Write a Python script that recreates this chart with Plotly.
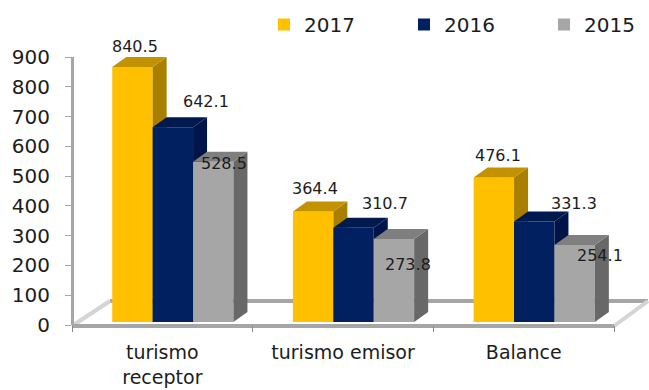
import plotly.graph_objects as go

categories = ["turismo<br>receptor", "turismo emisor", "Balance"]
series_names = ["2017", "2016", "2015"]
values_2017 = [840.5, 364.4, 476.1]
values_2016 = [642.1, 310.7, 331.3]
values_2015 = [528.5, 273.8, 254.1]
y_ticks = [0, 100, 200, 300, 400, 500, 600, 700, 800, 900]

W, H = 649, 390
FONT = "DejaVu Sans"
INK = "#1c1c1c"
GREY = "#a6a6a6"

front = ["#FFC000", "#002060", "#A6A6A6"]
top = ["#C29200", "#001A50", "#7F7F7F"]
side = ["#A97F00", "#00144A", "#686868"]

# label displacement from the front-top centre of each bar (pixels)
label_dx = [[3, 33, 11], [2, 31, 14], [4, 40, 25]]
label_dy = [[20, 26, -2], [23, 24, -26], [22, 18, -11]]

X0 = 72; CAT = 180.7
PX_UNIT = 0.3034   # bar plane scale
BASE = 322
def fy(px): return 1 - px / H
xrange_ = [(0 - X0) / CAT, (W - X0) / CAT]
bar_w = 40.4 / CAT
shift = 10.5 / CAT
dx = 14 / CAT
dy = 10 / PX_UNIT

all_vals = [values_2017, values_2016, values_2015]
axes = ["y2", "y3", "y4"]
fig = go.Figure()

fig.add_trace(go.Scatter(x=[0], y=[0], yaxis="y", mode="markers",
                         marker=dict(opacity=0), showlegend=False, hoverinfo="skip"))

annotations = []
for s, (name, vals) in enumerate(zip(series_names, all_vals)):
    xs = [c + 0.5 + shift + (s - 1) * bar_w for c in range(len(categories))]
    fig.add_trace(go.Bar(x=xs, y=vals, width=bar_w, name=name, yaxis=axes[s],
                         marker=dict(color=front[s], line=dict(width=0))))
    for c, (x, v) in enumerate(zip(xs, vals)):
        l, r = x - bar_w / 2, x + bar_w / 2
        fig.add_trace(go.Scatter(x=[r, r + dx, r + dx, r, r], y=[0, dy, v + dy, v, 0],
                                 yaxis=axes[s], mode="lines", fill="toself", fillcolor=side[s],
                                 line=dict(width=0), showlegend=False, hoverinfo="skip"))
        fig.add_trace(go.Scatter(x=[l, l + dx, r + dx, r, r, l], y=[v, v + dy, v + dy, v, v, v],
                                 yaxis=axes[s], mode="lines", fill="toself", fillcolor=top[s],
                                 line=dict(width=0), showlegend=False, hoverinfo="skip"))
        annotations.append(dict(x=x, y=v, xref="x", yref="y2", text=f"{v:.1f}", showarrow=False,
                                xanchor="center", yanchor="middle",
                                xshift=label_dx[c][s], yshift=label_dy[c][s],
                                font=dict(family=FONT, size=16, color=INK)))

def seg(x0, y0, x1, y1, color=GREY, width=4):
    return dict(type="line", xref="paper", yref="paper", layer="below",
                x0=x0 / W, x1=x1 / W, y0=fy(y0), y1=fy(y1),
                line=dict(color=color, width=width))

shapes = [
    seg(110, 301, 648, 301),
    seg(72, 326, 110, 301, "#d4d4d4", 4),
    seg(614, 326, 648, 301, "#d4d4d4", 4),
    seg(72, 326, 614, 326),
]

fig.update_layout(
    width=W, height=H, autosize=False, margin=dict(l=0, r=0, t=0, b=0, autoexpand=False),
    paper_bgcolor="white", plot_bgcolor="rgba(0,0,0,0)",
    barmode="overlay",
    font=dict(family=FONT, color=INK, size=20),
    shapes=shapes, annotations=annotations,
    legend=dict(orientation="h", x=264 / W, y=fy(5), xanchor="left", yanchor="top",
                font=dict(family=FONT, size=20, color=INK), entrywidth=95, entrywidthmode="pixels",
                bgcolor="rgba(0,0,0,0)", traceorder="normal"),
    xaxis=dict(range=xrange_, domain=[0, 1], anchor="y", showgrid=False, zeroline=False, showline=False,
               automargin=False,
               tickmode="array", tickvals=[i + 0.5 for i in range(len(categories))], ticktext=categories,
               ticklen=0, ticklabelstandoff=14, tickfont=dict(family=FONT, size=19, color=INK),
               minor=dict(tickmode="array", tickvals=[0, 1, 2, 3], ticks="outside", ticklen=6,
                          tickcolor="#888888", tickwidth=1, showgrid=False)),
    yaxis=dict(range=[0, 900], domain=[fy(325), fy(57)], anchor="free", position=X0 / W, side="left",
               automargin=False,
               tickmode="array", tickvals=y_ticks, showgrid=False, zeroline=False,
               showline=True, linecolor=GREY, linewidth=3, ticks="outside", ticklen=6, tickcolor=GREY,
               tickwidth=1, ticklabelstandoff=11, tickfont=dict(family=FONT, size=20, color=INK)),
    yaxis2=dict(range=[0, 900], domain=[fy(BASE), fy(BASE - 900 * PX_UNIT)], anchor="x", visible=False, automargin=False),
    yaxis3=dict(range=[0, 900], overlaying="y2", anchor="x", visible=False, automargin=False),
    yaxis4=dict(range=[0, 900], overlaying="y2", anchor="x", visible=False, automargin=False),
)
fig.write_html("out.html", config={"displayModeBar": False}, post_script="document.body.style.margin='0';")
